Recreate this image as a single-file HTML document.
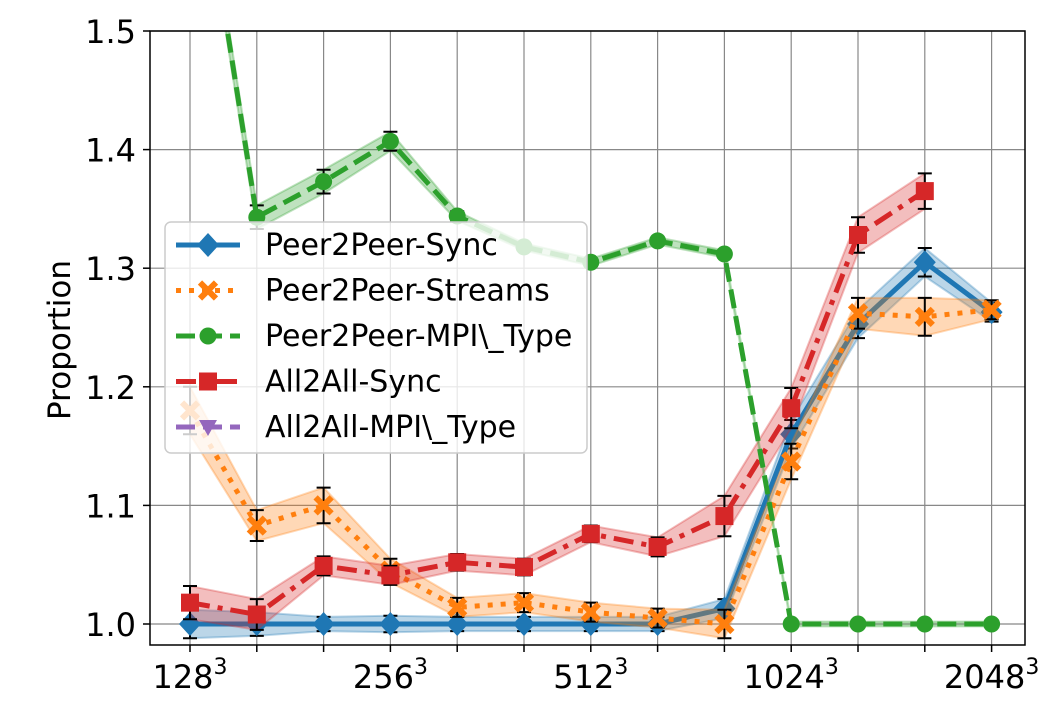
<!DOCTYPE html>
<html><head><meta charset="utf-8">
<style>
html,body{margin:0;padding:0;background:#fff;}
svg{display:block;font-family:"DejaVu Sans","Liberation Sans",sans-serif;}
</style></head>
<body>
<svg id="chart" width="1045" height="706" viewBox="0 0 1045 706" xmlns="http://www.w3.org/2000/svg">
  <defs><clipPath id="plotclip"><rect x="150" y="31" width="875" height="614"/></clipPath></defs>
  <rect x="150" y="31" width="875" height="614" fill="#fff"/>
  <g id="grid"></g>
  <g id="series" clip-path="url(#plotclip)"></g>
  <rect x="150" y="31" width="875" height="614" fill="none" stroke="#000" stroke-width="1.5"/>
  <g id="ticks"></g>
  <text x="0" y="0" transform="translate(70,340) rotate(-90)" text-anchor="middle" font-size="31">Proportion</text>
  <g id="legend"></g>
</svg>
<script>
const categories = ["128","","","256","","","512","","","1024","","","2048"];
const yTicks = [1.0,1.1,1.2,1.3,1.4,1.5];
const yTickLabels = ["1.0","1.1","1.2","1.3","1.4","1.5"];
const syncVals = [1.0,1.0,1.0,1.0,1.0,1.0,1.0,1.0,1.013,1.16,1.253,1.305,1.263];
const syncErr = [0.012,0.01,0.006,0.007,0.006,0.006,0.006,0.006,0.008,0.012,0.012,0.012,0.008];
const streamVals = [1.18,1.083,1.10,1.045,1.014,1.018,1.01,1.005,1.0,1.137,1.262,1.259,1.265];
const streamErr = [0.02,0.013,0.015,0.01,0.008,0.008,0.008,0.008,0.012,0.015,0.013,0.016,0.008];
const mpiVals = [1.70,1.343,1.373,1.407,1.344,1.318,1.305,1.323,1.312,1.0,1.0,1.0,1.0];
const mpiErr = [0.01,0.01,0.01,0.008,0.004,0.003,0.003,0.003,0.003,0.002,0.002,0.002,0.002];
const a2aVals = [1.018,1.008,1.049,1.041,1.052,1.048,1.076,1.065,1.091,1.182,1.328,1.365];
const a2aErr = [0.014,0.013,0.008,0.008,0.007,0.007,0.007,0.008,0.017,0.017,0.015,0.015];

const NS="http://www.w3.org/2000/svg";
const X0=190, DX=66.8, Y1=624, PX=1186;
function xs(i){return X0+DX*i;}
function ys(v){return Y1-(v-1.0)*PX;}
function mk(tag,attrs,parent){const e=document.createElementNS(NS,tag);for(const k in attrs)e.setAttribute(k,attrs[k]);parent.appendChild(e);return e;}

const grid=document.getElementById('grid'), ticks=document.getElementById('ticks'), ser=document.getElementById('series'), leg=document.getElementById('legend');
categories.forEach((c,i)=>{
  const l=mk('line',{x1:xs(i),x2:xs(i),y1:31,y2:645,stroke:'#888','stroke-width':1.2},grid);
  
  
  const t=mk('line',{x1:xs(i),x2:xs(i),y1:645,y2:652,stroke:'#000','stroke-width':1.5},ticks);
  
  
  if(c){
    const tx=mk('text',{x:xs(i),y:688,'text-anchor':'middle','font-size':32},ticks);
    
    
    tx.textContent=c;
    const sp=mk('tspan',{'font-size':22,dy:-14},tx);sp.textContent='3';
  }
});
yTicks.forEach((v,i)=>{
  const l=mk('line',{x1:150,x2:1025,y1:ys(v),y2:ys(v),stroke:'#888','stroke-width':1.2},grid);
  
  
  const t=mk('line',{x1:143,x2:150,y1:ys(v),y2:ys(v),stroke:'#000','stroke-width':1.5},ticks);
  
  
  const tx=mk('text',{x:136,y:ys(v)+12,'text-anchor':'end','font-size':32},ticks);
  
  
  tx.textContent=yTickLabels[i];
});

function marker(type,x,y,color,parent){
  let e;
  if(type==='diamond') e=mk('polygon',{points:`${x},${y-12} ${x+11},${y} ${x},${y+12} ${x-11},${y}`,fill:color},parent);
  else if(type==='x') e=mk('path',{d:`M${x-8},${y-8}L${x+8},${y+8}M${x+8},${y-8}L${x-8},${y+8}`,stroke:color,'stroke-width':6},parent);
  else if(type==='circle') e=mk('circle',{cx:x,cy:y,r:8.5,fill:color},parent);
  else if(type==='square') e=mk('rect',{x:x-9,y:y-9,width:18,height:18,fill:color},parent);
  else if(type==='tri') e=mk('polygon',{points:`${x-9},${y-7} ${x+9},${y-7} ${x},${y+9}`,fill:color},parent);
  return e;
}
function drawSeries(name,vals,err,color,dash,mtype){
  const g=mk('g',{},ser);
  
  
  const up=vals.map((v,i)=>xs(i)+','+ys(v+err[i]));
  const dn=vals.map((v,i)=>xs(i)+','+ys(v-err[i])).reverse();
  const band=mk('polygon',{points:up.concat(dn).join(' '),fill:color,'fill-opacity':0.3,stroke:color,'stroke-opacity':0.3,'stroke-width':2,'stroke-linejoin':'round'},g);
  
  
  vals.forEach((v,i)=>{
    const eb=mk('path',{d:`M${xs(i)},${ys(v+err[i])}V${ys(v-err[i])}M${xs(i)-7},${ys(v+err[i])}h14M${xs(i)-7},${ys(v-err[i])}h14`,stroke:'#000','stroke-width':2},g);
    
    
  });
  const line=mk('polyline',{points:vals.map((v,i)=>xs(i)+','+ys(v)).join(' '),fill:'none',stroke:color,'stroke-width':5,'stroke-dasharray':dash},g);
  
  
  vals.forEach((v,i)=>{
    const m=marker(mtype,xs(i),ys(v),color,g);
    
    
  });
}
drawSeries('peer2peer-sync',syncVals,syncErr,'#1f77b4','none','diamond');
drawSeries('peer2peer-streams',streamVals,streamErr,'#ff7f0e','5 8','x');
drawSeries('all2all-sync',a2aVals,a2aErr,'#d62728','20 8 5 8','square');
drawSeries('peer2peer-mpi-type',mpiVals,mpiErr,'#2ca02c','19 8','circle');

const box=mk('rect',{x:165,y:222,width:422,height:231,rx:6,fill:'#fff','fill-opacity':0.8,stroke:'#ccc','stroke-width':1.5},leg);


const entries=[['Peer2Peer-Sync','#1f77b4','none','diamond'],['Peer2Peer-Streams','#ff7f0e','5 8','x'],['Peer2Peer-MPI\\_Type','#2ca02c','19 8','circle'],['All2All-Sync','#d62728','20 8 5 8','square'],['All2All-MPI\\_Type','#9467bd','19 8','tri']];
entries.forEach((e,i)=>{
  const y=245+i*45.5;
  const g=mk('g',{},leg);
  
  
  mk('line',{x1:176,x2:240,y1:y,y2:y,stroke:e[1],'stroke-width':5,'stroke-dasharray':e[2]},g);
  marker(e[3],208,y,e[1],g);
  const t=mk('text',{x:265,y:y+10,'font-size':30},g);
  t.textContent=e[0];
});
</script>
</body></html>
